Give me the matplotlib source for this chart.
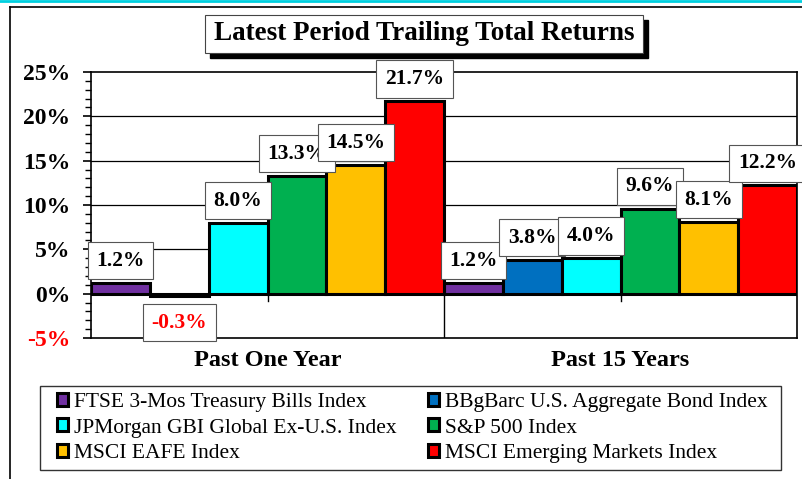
import matplotlib.pyplot as plt
from matplotlib.lines import Line2D
from matplotlib.patches import Rectangle

plt.rcParams['font.family'] = ['Liberation Serif', 'DejaVu Serif']

periods = ['Past One Year', 'Past 15 Years']
indexes = ['FTSE 3-Mos Treasury Bills Index', 'BBgBarc U.S. Aggregate Bond Index',
           'JPMorgan GBI Global Ex-U.S. Index', 'S&P 500 Index',
           'MSCI EAFE Index', 'MSCI Emerging Markets Index']
one_year = [1.2, -0.3, 8.0, 13.3, 14.5, 21.7]
fifteen_years = [1.2, 3.8, 4.0, 9.6, 8.1, 12.2]
colors = ['#7030A0', '#0070C0', '#00FFFF', '#00B050', '#FFC000', '#FF0000']
yticks = [-5, 0, 5, 10, 15, 20, 25]

fig = plt.figure(figsize=(8.02, 4.79), dpi=100)
ax = fig.add_axes([91 / 802, 1 - 338 / 479, 706 / 802, 266 / 479])

# frame around the slide
fig.add_artist(Line2D([0, 1], [1 - 1 / 479, 1 - 1 / 479], color='#00D0E0', lw=2))
fig.add_artist(Line2D([10 / 802, 1], [1 - 7 / 479, 1 - 7 / 479], color='black', lw=1.2))
fig.add_artist(Line2D([10 / 802, 10 / 802], [0, 1 - 7 / 479], color='black', lw=1.2))

w = 1 / 6
vals = [one_year, fifteen_years]
for i, name in enumerate(indexes):
    heights = [v[i] for v in vals]
    xs = [g + (i - 2.5) * w for g in range(len(periods))]
    ax.bar(xs, heights, width=w, color=colors[i], edgecolor='black', lw=2.2,
           label=name, zorder=3)
    for x, h in zip(xs, heights):
        off = 16 if h >= 0 else -19
        ax.annotate(f'{h:.1f}%', (x, h), xytext=(0, off), textcoords='offset points',
                    ha='center', va='center', fontsize=15.5, fontweight='bold',
                    color='red' if h < 0 else 'black', zorder=5,
                    bbox=dict(boxstyle='square,pad=0.4', fc='white', ec='#555555', lw=0.8))

ax.set_xlim(-0.5, 1.5)
ax.set_ylim(-5, 25)
ax.set_yticks(yticks)
ax.set_yticklabels([f'{t}%' for t in yticks], fontsize=17, fontweight='bold')
ax.get_yticklabels()[0].set_color('red')
ax.set_yticks(range(-5, 26), minor=True)
ax.tick_params(axis='y', which='major', length=6, width=1.2, pad=9)
ax.tick_params(axis='y', which='minor', length=4, width=1)
ax.set_xticks(range(len(periods)))
ax.set_xticklabels(periods, fontsize=17.5, fontweight='bold')
ax.tick_params(axis='x', length=0, pad=9)
for s in ax.spines.values():
    s.set_linewidth(1.2)

for t in yticks[2:-1]:
    ax.axhline(t, color='black', lw=0.9, zorder=1)
ax.axhline(0, color='black', lw=2, zorder=2)
ax.axvline(0.5, ymin=0, ymax=5 / 30, color='black', lw=1, zorder=1)
for g in range(len(periods)):
    ax.axvline(g, ymin=4.2 / 30, ymax=5 / 30, color='black', lw=1, zorder=1)

# title with shadow
fig.add_artist(Rectangle((210 / 802, 1 - 58 / 479), 438 / 802, 38 / 479,
                         transform=fig.transFigure, fc='black', ec='black'))
fig.add_artist(Rectangle((205 / 802, 1 - 53 / 479), 438 / 802, 38 / 479,
                         transform=fig.transFigure, fc='white', ec='#444444', lw=0.8))
fig.text(424 / 802, 1 - 34 / 479, 'Latest Period Trailing Total Returns',
         ha='center', va='center', fontsize=19.5, fontweight='bold')

# legend box
fig.add_artist(Rectangle((40 / 802, 1 - 470 / 479), 741 / 802, 84 / 479,
                         transform=fig.transFigure, fc='white', ec='#333333', lw=1))
handles, labels = ax.get_legend_handles_labels()
order = [0, 2, 4, 1, 3, 5]
leg = fig.legend([handles[k] for k in order], [labels[k] for k in order],
                 loc='center', bbox_to_anchor=(412 / 802, 1 - 428 / 479), ncol=2,
                 fontsize=15.5, frameon=False,
                 handlelength=0.55, handleheight=0.55, handletextpad=0.25,
                 columnspacing=1.45, labelspacing=0.3, borderpad=0.2, borderaxespad=0)

fig.savefig('out.png', dpi=100)
